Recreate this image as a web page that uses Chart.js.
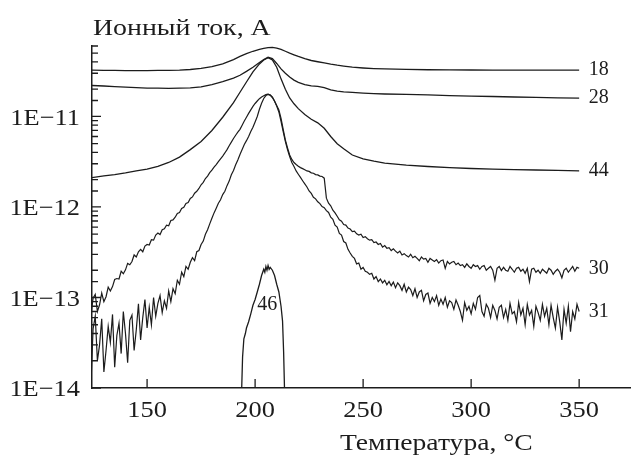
<!DOCTYPE html>
<html>
<head>
<meta charset="utf-8">
<script src="https://cdn.jsdelivr.net/npm/chart.js@4.4.1/dist/chart.umd.min.js"></script>
<style>
  html, body { margin: 0; padding: 0; background: #fff; }
  #wrap { width: 631px; height: 458px; position: relative; }
</style>
</head>
<body>
<div id="wrap"><canvas id="chart"></canvas></div>
<script>
// temperatures, °C
const tFine = [
  124,125,126,127,128,129,130,131,132,133,
  134,135,136,137,138,139,140,141,142,143,
  144,145,146,147,148,149,150,151,152,153,
  154,155,156,157,158,159,160,161,162,163,
  164,165,166,167,168,169,170,171,172,173,
  174,175,176,177,178,179,180,181,182,183,
  184,185,186,187,188,189,190,191,192,193,
  194,195,196,197,198,199,200,201,202,203,
  204,205,206,207,208,209,210,211,212,213,
  214,215,216,217,218,219,220,221,222,223,
  224,225,226,227,228,229,230,231,232,233,
  234,235,236,237,238,239,240,241,242,243,
  244,245,246,247,248,249,250,251,252,253,
  254,255,256,257,258,259,260,261,262,263,
  264,265,266,267,268,269,270,271,272,273,
  274,275,276,277,278,279,280,281,282,283,
  284,285,286,287,288,289,290,291,292,293,
  294,295,296,297,298,299,300,301,302,303,
  304,305,306,307,308,309,310,311,312,313,
  314,315,316,317,318,319,320,321,322,323,
  324,325,326,327,328,329,330,331,332,333,
  334,335,336,337,338,339,340,341,342,343,
  344,345,346,347,348,349,350
];

// m/z 30, ion current, A
const ion30 = [
  6.4e-14,9.8e-14,1.08e-13,7.0e-14,8.3e-14,1.12e-13,9.0e-14,1.02e-13,1.3e-13,1.18e-13,
  1.32e-13,1.58e-13,1.62e-13,1.6e-13,1.95e-13,1.83e-13,2.02e-13,2.38e-13,2.3e-13,2.5e-13,
  2.95e-13,2.8e-13,3.2e-13,3.4e-13,3.2e-13,3.7e-13,3.85e-13,3.8e-13,4.35e-13,4.3e-13,
  4.9e-13,5.15e-13,4.95e-13,5.6e-13,5.75e-13,6.3e-13,6.2e-13,7.1e-13,7.2e-13,7.7e-13,
  8.5e-13,8.7e-13,9.6e-13,9.9e-13,1.09e-12,1.12e-12,1.24e-12,1.29e-12,1.42e-12,1.49e-12,
  1.6e-12,1.76e-12,1.87e-12,2.06e-12,2.19e-12,2.39e-12,2.55e-12,2.76e-12,2.94e-12,3.16e-12,
  3.4e-12,3.65e-12,3.95e-12,4.3e-12,4.75e-12,5.2e-12,5.7e-12,6.2e-12,6.7e-12,7.2e-12,
  8.0e-12,8.9e-12,9.8e-12,1.08e-11,1.18e-11,1.29e-11,1.39e-11,1.48e-11,1.57e-11,1.64e-11,
  1.69e-11,1.74e-11,1.76e-11,1.72e-11,1.62e-11,1.48e-11,1.32e-11,1.18e-11,9.5e-12,7.2e-12,
  5.5e-12,4.5e-12,3.75e-12,3.35e-12,3.1e-12,2.95e-12,2.82e-12,2.72e-12,2.65e-12,2.58e-12,
  2.5e-12,2.47e-12,2.38e-12,2.36e-12,2.28e-12,2.26e-12,2.19e-12,2.17e-12,2.08e-12,1.25e-12,
  1.1e-12,1.03e-12,9.2e-13,8.6e-13,7.9e-13,7.2e-13,6.95e-13,6.4e-13,6.3e-13,5.85e-13,
  5.7e-13,5.35e-13,5.4e-13,5.05e-13,4.9e-13,5.0e-13,4.6e-13,4.7e-13,4.45e-13,4.3e-13,
  4.35e-13,4.05e-13,4.1e-13,3.85e-13,3.95e-13,3.6e-13,3.75e-13,3.5e-13,3.55e-13,3.3e-13,
  3.45e-13,3.25e-13,3.1e-13,3.25e-13,2.95e-13,3.05e-13,2.9e-13,2.8e-13,3.0e-13,2.75e-13,
  2.85e-13,2.7e-13,2.55e-13,2.8e-13,2.65e-13,2.7e-13,2.45e-13,2.7e-13,2.6e-13,2.5e-13,
  2.62e-13,2.4e-13,2.55e-13,2.6e-13,2.1e-13,2.5e-13,2.35e-13,2.45e-13,2.5e-13,2.3e-13,
  2.4e-13,2.25e-13,2.3e-13,2.15e-13,2.35e-13,2.2e-13,2.1e-13,2.3e-13,2.2e-13,2.25e-13,
  2.05e-13,2.2e-13,2.25e-13,2.0e-13,2.1e-13,2.2e-13,2.0e-13,1.55e-13,2.1e-13,2.2e-13,
  1.98e-13,2.15e-13,2.0e-13,1.95e-13,2.2e-13,2.05e-13,1.9e-13,2.1e-13,2.15e-13,1.95e-13,
  2.05e-13,1.85e-13,2.1e-13,1.5e-13,2.05e-13,2.1e-13,1.9e-13,2.0e-13,1.85e-13,2.05e-13,
  1.95e-13,1.85e-13,2.1e-13,2.0e-13,1.8e-13,1.95e-13,2.05e-13,1.9e-13,1.65e-13,2.0e-13,
  2.1e-13,1.9e-13,2.05e-13,2.2e-13,1.95e-13,2.15e-13,2.1e-13
];

// m/z 31, ion current, A
const ion31 = [
  1.1e-14,4.5e-14,6.2e-14,2.0e-14,3.0e-14,5.8e-14,1.5e-14,2.6e-14,4.8e-14,3.2e-14,
  6.5e-14,1.7e-14,3.8e-14,5.2e-14,2.4e-14,7.0e-14,4.0e-14,1.9e-14,5.6e-14,6.4e-14,
  2.6e-14,4.4e-14,8.5e-14,3.4e-14,6.0e-14,9.5e-14,4.6e-14,7.8e-14,5.0e-14,1.0e-13,
  6.2e-14,8.6e-14,1.05e-13,6.8e-14,9.2e-14,7.6e-14,1.18e-13,9.0e-14,1.25e-13,1.1e-13,
  1.55e-13,1.4e-13,1.9e-13,1.7e-13,2.2e-13,2.05e-13,2.45e-13,2.75e-13,2.55e-13,3.2e-13,
  3.3e-13,3.85e-13,4.2e-13,5.0e-13,5.6e-13,6.5e-13,7.5e-13,8.6e-13,9.7e-13,1.1e-12,
  1.2e-12,1.37e-12,1.49e-12,1.72e-12,1.93e-12,2.27e-12,2.53e-12,2.92e-12,3.3e-12,3.8e-12,
  4.3e-12,4.9e-12,5.4e-12,6.0e-12,6.8e-12,7.6e-12,8.7e-12,1.0e-11,1.2e-11,1.4e-11,
  1.58e-11,1.7e-11,1.75e-11,1.72e-11,1.63e-11,1.47e-11,1.3e-11,1.12e-11,8.8e-12,6.8e-12,
  5.3e-12,4.3e-12,3.6e-12,3.1e-12,2.8e-12,2.5e-12,2.3e-12,2.12e-12,1.95e-12,1.8e-12,
  1.66e-12,1.5e-12,1.41e-12,1.28e-12,1.23e-12,1.14e-12,1.09e-12,1.01e-12,9.8e-13,9.1e-13,
  8.7e-13,7.7e-13,7.3e-13,6.3e-13,6.0e-13,5.1e-13,4.9e-13,4.15e-13,4.0e-13,3.4e-13,
  3.1e-13,2.85e-13,2.7e-13,2.35e-13,2.4e-13,2.05e-13,2.15e-13,1.95e-13,1.9e-13,1.8e-13,
  1.85e-13,1.6e-13,1.7e-13,1.5e-13,1.6e-13,1.45e-13,1.55e-13,1.38e-13,1.5e-13,1.35e-13,
  1.48e-13,1.28e-13,1.45e-13,1.35e-13,1.2e-13,1.4e-13,1.15e-13,1.3e-13,1.22e-13,1.05e-13,
  1.25e-13,1.0e-13,1.15e-13,1.2e-13,9.2e-14,1.08e-13,1.12e-13,8.6e-14,1.0e-13,9.0e-14,
  1.05e-13,8.2e-14,9.6e-14,8.4e-14,1.0e-13,7.8e-14,9.2e-14,8.8e-14,7.4e-14,9.4e-14,
  8.2e-14,7.0e-14,5.6e-14,8.8e-14,7.2e-14,8.0e-14,6.6e-14,8.6e-14,7.4e-14,1.0e-13,
  1.05e-13,7.0e-14,6.2e-14,8.4e-14,7.6e-14,6.0e-14,8.2e-14,7.2e-14,5.8e-14,7.8e-14,
  8.2e-14,6.0e-14,7.4e-14,5.6e-14,8.6e-14,6.6e-14,7.0e-14,5.4e-14,8.8e-14,6.4e-14,
  7.6e-14,5.0e-14,8.4e-14,6.4e-14,7.2e-14,4.8e-14,8.0e-14,6.8e-14,5.6e-14,8.4e-14,
  6.2e-14,7.6e-14,5.0e-14,8.2e-14,6.0e-14,4.6e-14,7.8e-14,5.4e-14,3.4e-14,7.4e-14,
  5.2e-14,8.0e-14,4.2e-14,7.0e-14,5.8e-14,8.4e-14,7.0e-14
];

const tCoarse = [124,130,135,140,145,150,155,160,165,170,175,180,185,190,193,196,199,202,204,206,
  208,210,212,214,216,218,220,223,226,229,232,235,238,241,245,250,255,260,270,280,
  290,300,310,320,330,340,350];

const ion18 = [3.25e-11,3.23e-11,3.22e-11,3.2e-11,3.2e-11,3.21e-11,3.22e-11,3.23e-11,3.25e-11,3.3e-11,
  3.4e-11,3.55e-11,3.8e-11,4.25e-11,4.6e-11,4.95e-11,5.25e-11,5.5e-11,5.65e-11,5.75e-11,
  5.8e-11,5.7e-11,5.5e-11,5.25e-11,5.0e-11,4.8e-11,4.6e-11,4.35e-11,4.15e-11,4.02e-11,
  3.9e-11,3.78e-11,3.68e-11,3.6e-11,3.5e-11,3.43e-11,3.38e-11,3.35e-11,3.31e-11,3.28e-11,
  3.27e-11,3.26e-11,3.25e-11,3.25e-11,3.24e-11,3.24e-11,3.24e-11];

const ion28 = [2.2e-11,2.17e-11,2.14e-11,2.11e-11,2.08e-11,2.06e-11,2.05e-11,2.04e-11,2.05e-11,2.07e-11,
  2.12e-11,2.25e-11,2.42e-11,2.65e-11,2.85e-11,3.15e-11,3.5e-11,3.95e-11,4.25e-11,4.5e-11,
  4.35e-11,3.85e-11,3.35e-11,3.0e-11,2.72e-11,2.52e-11,2.38e-11,2.25e-11,2.18e-11,2.15e-11,
  2.08e-11,1.96e-11,1.9e-11,1.87e-11,1.84e-11,1.81e-11,1.79e-11,1.77e-11,1.75e-11,1.73e-11,
  1.7e-11,1.68e-11,1.66e-11,1.64e-11,1.62e-11,1.6e-11,1.59e-11];

const ion44 = [2.1e-12,2.2e-12,2.28e-12,2.38e-12,2.5e-12,2.62e-12,2.8e-12,3.1e-12,3.55e-12,4.3e-12,
  5.3e-12,7.0e-12,9.8e-12,1.42e-11,1.85e-11,2.4e-11,3.1e-11,3.8e-11,4.2e-11,4.45e-11,
  4.2e-11,3.5e-11,2.6e-11,2.0e-11,1.6e-11,1.38e-11,1.22e-11,1.05e-11,9.3e-12,8.5e-12,
  7.4e-12,6.0e-12,5.0e-12,4.4e-12,3.75e-12,3.4e-12,3.2e-12,3.05e-12,2.9e-12,2.8e-12,
  2.72e-12,2.66e-12,2.62e-12,2.58e-12,2.56e-12,2.53e-12,2.5e-12];

const t46 = [193,193.8,194.2,194.8,195.5,196,197,198,199,200,201,202,203,204,204.5,205,205.5,206,206.5,207,
  208,209,210,211,212,212.7,213.2,213.6,214];
const ion46 = [5e-15,1.0e-14,2.2e-14,3.5e-14,4.0e-14,4.6e-14,5.4e-14,6.6e-14,8.2e-14,9.5e-14,
  1.15e-13,1.4e-13,1.75e-13,2.05e-13,1.9e-13,2.2e-13,2.0e-13,2.25e-13,2.05e-13,2.15e-13,
  2.0e-13,1.75e-13,1.4e-13,1.15e-13,8e-14,5.5e-14,2.5e-14,1.0e-14,5e-15];

const curveNames = ['18', '28', '44', '30', '31', '46'];
const xTicks = [150, 200, 250, 300, 350];
const yMajor = [1e-14, 1e-13, 1e-12, 1e-11];
const yMajorLabels = ['1E\u221214', '1E\u221213', '1E\u221212', '1E\u221211'];
const yTitle = 'Ионный ток, А';
const xTitle = 'Температура, °С';

const ink = '#1c1c1c';
const serif = '"Liberation Serif", "Times New Roman", serif';

function toPoints(xs, ys) {
  return xs.map((x, i) => ({ x: x, y: ys[i] }));
}

function isMajor(v) {
  return yMajor.some(m => Math.abs(v / m - 1) < 1e-6);
}

function line(xs, ys, w) {
  return {
    data: toPoints(xs, ys),
    borderColor: ink,
    borderWidth: w,
    pointRadius: 0,
    tension: 0
  };
}

// text drawn a bit wider, the printed font is broader than Liberation Serif
function wideText(ctx, text, x, y, sx) {
  ctx.save();
  ctx.scale(sx, 1);
  ctx.fillText(text, x / sx, y);
  ctx.restore();
}

// inward tick marks, tick labels, axis titles and curve numbers
const decorations = {
  id: 'decorations',
  afterDraw(chart) {
    const ctx = chart.ctx;
    const area = chart.chartArea;
    const xs = chart.scales.x;
    const ys = chart.scales.y;
    ctx.save();
    ctx.strokeStyle = ink;
    ctx.lineWidth = 1.3;
    ctx.beginPath();
    xTicks.forEach(v => {
      const px = xs.getPixelForValue(v);
      ctx.moveTo(px, area.bottom);
      ctx.lineTo(px, area.bottom - 9);
    });
    ys.ticks.forEach(t => {
      const py = ys.getPixelForValue(t.value);
      const len = isMajor(t.value) ? 9 : 6;
      ctx.moveTo(area.left, py);
      ctx.lineTo(area.left + len, py);
    });
    ctx.stroke();

    ctx.fillStyle = ink;
    ctx.font = '24px ' + serif;
    ctx.textBaseline = 'alphabetic';

    ctx.textAlign = 'right';
    yMajor.forEach((v, i) => {
      wideText(ctx, yMajorLabels[i], 80, ys.getPixelForValue(v) + 8.3, 1.1);
    });
    ctx.textAlign = 'center';
    xTicks.forEach(v => {
      wideText(ctx, String(v), xs.getPixelForValue(v), 417, 1.1);
    });

    ctx.textAlign = 'left';
    wideText(ctx, yTitle, 93, 35, 1.16);
    wideText(ctx, xTitle, 340, 450, 1.15);

    ctx.font = '20px ' + serif;
    ctx.textBaseline = 'middle';
    const ends = [ion18, ion28, ion44, ion30, ion31];
    ends.forEach((arr, i) => {
      ctx.fillText(curveNames[i], xs.getPixelForValue(354.5), ys.getPixelForValue(arr[arr.length - 1]));
    });
    ctx.textAlign = 'center';
    ctx.fillText(curveNames[5], xs.getPixelForValue(205.6), ys.getPixelForValue(8.3e-14));
    ctx.restore();
  }
};

new Chart(document.getElementById('chart'), {
  type: 'line',
  data: {
    datasets: [
      line(tCoarse, ion18, 1.3),
      line(tCoarse, ion28, 1.3),
      line(tCoarse, ion44, 1.3),
      line(tFine, ion30, 1.2),
      line(tFine, ion31, 1.2),
      line(t46, ion46, 1.3)
    ]
  },
  options: {
    responsive: true,
    maintainAspectRatio: false,
    animation: false,
    layout: { padding: { top: 46, left: 0, right: 0, bottom: 0 } },
    plugins: {
      legend: { display: false },
      tooltip: { enabled: false }
    },
    scales: {
      x: {
        type: 'linear',
        min: 124.5,
        max: 374,
        grid: { display: false },
        border: { display: true, color: ink, width: 1.5 },
        ticks: { display: false, includeBounds: false },
        afterBuildTicks: s => { s.ticks = xTicks.map(v => ({ value: v })); },
        afterFit: s => { s.height = 70; s.paddingLeft = 0; s.paddingRight = 0; }
      },
      y: {
        type: 'logarithmic',
        min: 1e-14,
        max: 6e-11,
        grid: { display: false },
        border: { display: true, color: ink, width: 1.5 },
        ticks: { display: false, autoSkip: false },
        afterFit: s => { s.width = 92; s.paddingTop = 0; s.paddingBottom = 0; }
      }
    }
  },
  plugins: [decorations]
});
</script>
</body>
</html>
